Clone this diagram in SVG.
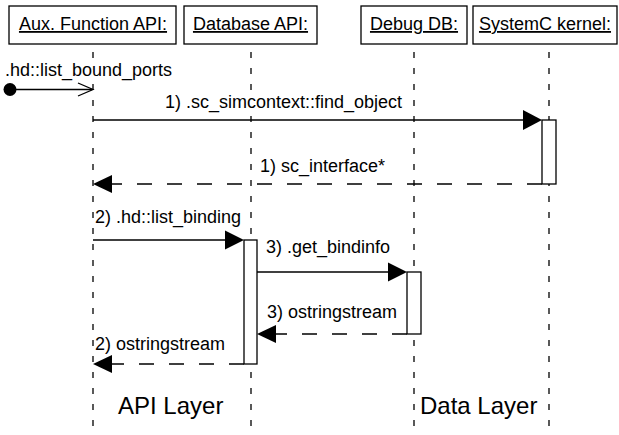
<svg xmlns="http://www.w3.org/2000/svg" width="619" height="435" viewBox="0 0 619 435">
  <style>
    .box{fill:#fff;stroke:#000;stroke-width:1.3}
    .act{fill:#fff;stroke:#000;stroke-width:1.3}
    .life{stroke:#000;stroke-width:1.3;stroke-dasharray:6 10;fill:none}
    .msg{stroke:#000;stroke-width:1.3;fill:none}
    .ret{stroke:#000;stroke-width:1.3;fill:none;stroke-dasharray:15 15}
    .head{fill:#000;stroke:none}
    .mask{fill:#fff;stroke:none}
    text{font-family:"Liberation Sans",Arial,sans-serif;font-size:18px;fill:#000}
    .title{text-anchor:middle;text-decoration:underline}
    .layer{font-size:24px}
  </style>

  <!-- lifelines -->
  <g id="lifelines">
    <line class="life" x1="93" y1="52" x2="93" y2="435"/>
    <line class="life" x1="251" y1="52" x2="251" y2="435"/>
    <line class="life" x1="414" y1="52" x2="414" y2="435"/>
    <line class="life" x1="549" y1="52" x2="549" y2="435"/>
  </g>

  <g id="aux">
    <rect class="box" x="9" y="6" width="167" height="38"/>
    <text class="title" x="93" y="30">Aux. Function API:</text>
  </g>
  <g id="database">
    <rect class="box" x="184" y="6" width="133" height="38"/>
    <text class="title" x="250.5" y="30">Database API:</text>
    <rect class="act" x="244" y="240" width="13" height="124"/>
  </g>
  <g id="debugdb">
    <rect class="box" x="361" y="6" width="106" height="38"/>
    <text class="title" x="414" y="30">Debug DB:</text>
    <rect class="act" x="407" y="272" width="14" height="62"/>
  </g>
  <g id="systemc">
    <rect class="box" x="473" y="6" width="144" height="38"/>
    <text class="title" x="545" y="30">SystemC kernel:</text>
    <rect class="act" x="542" y="120" width="14" height="64"/>
  </g>

  <g id="connectors">
    <!-- found message -->
    <circle cx="10" cy="89.5" r="6.5" fill="#000"/>
    <line class="msg" x1="10" y1="89.5" x2="92" y2="89.5"/>
    <polyline class="msg" points="78,83 93,89.5 78,96"/>
    <rect class="mask" x="5" y="61" width="168" height="20"/>
    <text x="5" y="75.5">.hd::list_bound_ports</text>

    <!-- 1) find_object -->
    <line class="msg" x1="93" y1="120" x2="524" y2="120"/>
    <polygon class="head" points="542,120 523,110 523,130"/>
    <rect class="mask" x="165" y="94" width="241" height="19"/>
    <text x="165" y="108">1) .sc_simcontext::find_object</text>

    <!-- 1) sc_interface* return -->
    <line class="ret" x1="542" y1="184" x2="110" y2="184"/>
    <polygon class="head" points="93,184 112,175 112,193"/>
    <text x="260" y="172">1) sc_interface*</text>

    <!-- 2) list_binding -->
    <line class="msg" x1="93" y1="240" x2="226" y2="240"/>
    <polygon class="head" points="244,240 225,230.5 225,249.5"/>
    <text x="95" y="223">2) .hd::list_binding</text>

    <!-- 3) get_bindinfo -->
    <line class="msg" x1="257" y1="272" x2="390" y2="272"/>
    <polygon class="head" points="407,272 388,262.5 388,281.5"/>
    <text x="266" y="253">3) .get_bindinfo</text>

    <!-- 3) ostringstream return -->
    <line class="ret" x1="407" y1="334" x2="274" y2="334"/>
    <polygon class="head" points="257,334 276,325 276,343"/>
    <text x="267" y="318">3) ostringstream</text>

    <!-- 2) ostringstream return -->
    <line class="ret" x1="244" y1="364" x2="110" y2="364"/>
    <polygon class="head" points="93,364 112,355 112,373"/>
    <text x="95" y="350">2) ostringstream</text>
  </g>

  <text class="layer" x="118" y="414">API Layer</text>
  <text class="layer" x="420" y="414">Data Layer</text>
</svg>
